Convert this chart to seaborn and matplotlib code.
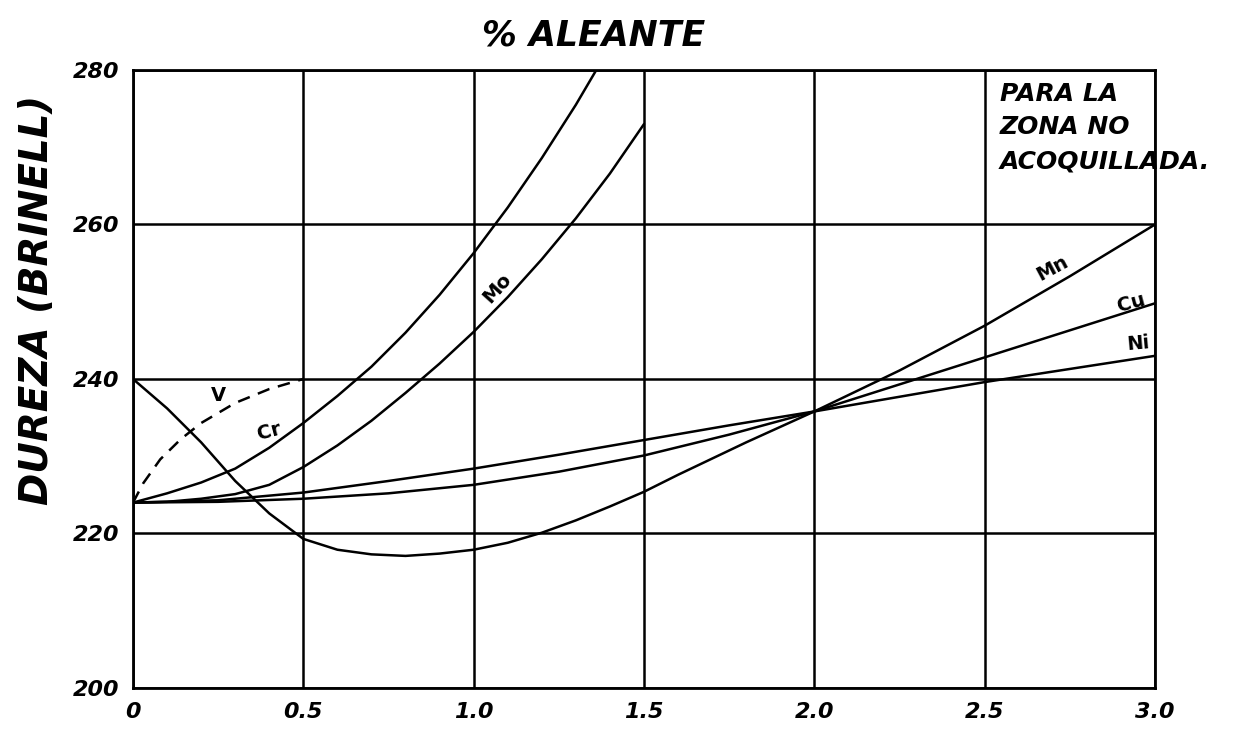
import matplotlib
matplotlib.use("Agg")
import matplotlib.pyplot as plt
import seaborn as sns

# ---- data ----
x_v = [0, 0.03, 0.08, 0.14, 0.2, 0.3, 0.4, 0.5]
y_v = [224, 226.5, 229.6, 232.2, 234.3, 236.9, 238.7, 240]

x_cr = [0, 0.1, 0.2, 0.3, 0.4, 0.5, 0.6, 0.7, 0.8, 0.9, 1.0, 1.1, 1.2, 1.3, 1.36]
y_cr = [224, 225.2, 226.6, 228.4, 231.1, 234.3, 237.8, 241.6, 246.0, 250.9, 256.3, 262.2, 268.6, 275.5, 280]

x_mo = [0, 0.1, 0.2, 0.3, 0.4, 0.5, 0.6, 0.7, 0.8, 0.9, 1.0, 1.1, 1.2, 1.3, 1.4, 1.5]
y_mo = [224, 224.1, 224.5, 225.1, 226.3, 228.6, 231.4, 234.6, 238.2, 242.0, 246.1, 250.6, 255.5, 260.8, 266.6, 273]

x_ni = [0, 0.25, 0.5, 0.75, 1.0, 1.25, 1.5, 1.75, 2.0, 2.25, 2.5, 2.75, 3.0]
y_ni = [224, 224.3, 225.3, 226.8, 228.4, 230.2, 232.1, 234.0, 235.8, 237.7, 239.6, 241.3, 243]

x_cu = [0, 0.25, 0.5, 0.75, 1.0, 1.25, 1.5, 1.75, 2.0, 2.25, 2.5, 2.75, 3.0]
y_cu = [224, 224.1, 224.5, 225.2, 226.3, 228.0, 230.1, 232.8, 235.8, 239.3, 242.8, 246.3, 249.8]

x_mn = [0, 0.1, 0.2, 0.3, 0.4, 0.5, 0.6, 0.7, 0.8, 0.9, 1.0, 1.1, 1.2, 1.3, 1.4,
        1.5, 1.6, 1.7, 1.8, 1.9, 2.0, 2.25, 2.5, 2.75, 3.0]
y_mn = [240, 236.2, 231.8, 226.8, 222.6, 219.3, 217.9, 217.3, 217.1, 217.4, 217.9, 218.8, 220.1, 221.7, 223.5,
        225.4, 227.6, 229.7, 231.8, 233.8, 235.8, 241.1, 246.9, 253.3, 260]

x_ticks = [0, 0.5, 1.0, 1.5, 2.0, 2.5, 3.0]
x_ticklabels = ["0", "0.5", "1.0", "1.5", "2.0", "2.5", "3.0"]
y_ticks = [200, 220, 240, 260, 280]

title = "% ALEANTE"
ylabel = "DUREZA (BRINELL)"
note = "PARA LA\nZONA NO\nACOQUILLADA."

# ---- style ----
sns.set_style("white")
plt.rcParams["font.family"] = ["DejaVu Sans"]
plt.rcParams["text.color"] = "black"

W, H = 1247, 731
fig = plt.figure(figsize=(W / 100, H / 100), dpi=100)
fig.patch.set_facecolor("white")
ax = fig.add_axes([133 / W, 1 - 688 / H, (1155 - 133) / W, (688 - 70) / H])
ax.set_facecolor("white")

lw = 1.8
for xs, ys in [(x_cr, y_cr), (x_mo, y_mo), (x_ni, y_ni), (x_cu, y_cu), (x_mn, y_mn)]:
    sns.lineplot(x=xs, y=ys, ax=ax, color="black", linewidth=lw, sort=False, estimator=None)
sns.lineplot(x=x_v, y=y_v, ax=ax, color="black", linewidth=lw, sort=False, estimator=None,
             linestyle=(0, (5, 3.5)))

ax.set_xlim(0, 3.0)
ax.set_ylim(200, 280)
ax.set_xticks(x_ticks)
ax.set_xticklabels(x_ticklabels)
ax.set_yticks(y_ticks)
ax.grid(True, color="black", linewidth=1.8)
ax.set_axisbelow(True)
for s in ax.spines.values():
    s.set_visible(True)
    s.set_color("black")
    s.set_linewidth(2.0)
ax.tick_params(axis="both", length=0, labelsize=16, pad=10, colors="black")
for lab in ax.get_xticklabels() + ax.get_yticklabels():
    lab.set_fontweight("bold")
    lab.set_fontstyle("italic")
ax.set_xlabel("")
ax.set_ylabel("")

fig.text(594 / W, 1 - 35 / H, title, ha="center", va="center", fontsize=25,
         fontweight="bold", fontstyle="italic", color="black")
fig.text(37 / W, 1 - 300 / H, ylabel, ha="center", va="center", rotation=90, fontsize=28,
         fontweight="bold", fontstyle="italic", color="black")
fig.text(1000 / W, 1 - 82 / H, note, ha="left", va="top", fontsize=18, fontweight="bold",
         fontstyle="italic", linespacing=1.5, color="black")

lab_kw = dict(fontsize=14, fontweight="bold", ha="center", va="center", color="black")
ax.text(0.25, 237.9, "V", **lab_kw)
ax.text(0.40, 233.2, "Cr", rotation=15, **lab_kw)
ax.text(1.07, 251.8, "Mo", rotation=48, **lab_kw)
ax.text(2.70, 254.3, "Mn", rotation=28, **lab_kw)
ax.text(2.93, 249.8, "Cu", rotation=15, **lab_kw)
ax.text(2.95, 244.6, "Ni", rotation=5, **lab_kw)

fig.savefig("out.png", dpi=100, facecolor="white")
